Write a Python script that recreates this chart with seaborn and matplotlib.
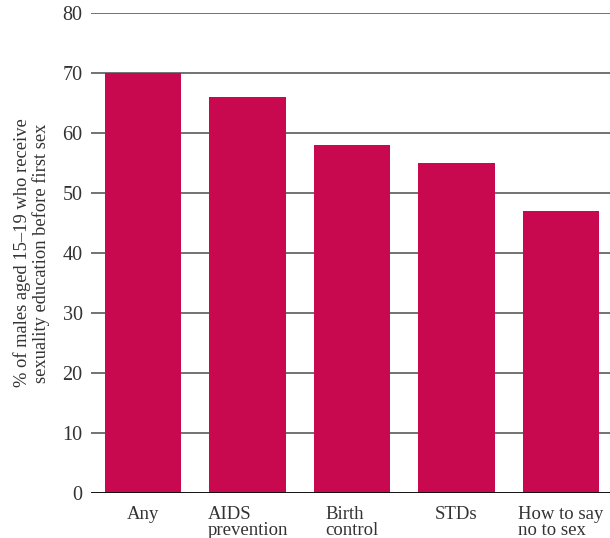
import matplotlib
matplotlib.use("Agg")
import matplotlib.pyplot as plt
import seaborn as sns
import pandas as pd

categories = ["Any", "AIDS\nprevention", "Birth\ncontrol", "STDs", "How to say\nno to sex"]
values = [70, 66, 58, 55, 47]
yticks = [0, 10, 20, 30, 40, 50, 60, 70, 80]

df = pd.DataFrame({"topic": categories, "pct": values})

sns.set_theme(style="white")
plt.rcParams["font.family"] = ["Liberation Serif", "DejaVu Serif"]

fig = plt.figure(figsize=(6.1, 5.38), dpi=100)
ax = fig.add_axes([0.149, 0.0836, 0.851, 0.8924])

for t in yticks[1:]:
    ax.axhline(t, color="#5a5a5a", lw=1.2, zorder=0)
ax.axhline(0, color="#111111", lw=1.4, zorder=3)

sns.barplot(data=df, x="topic", y="pct", color="#C8094F", saturation=1,
            width=0.73, ax=ax, zorder=2, edgecolor="none", linewidth=0)

ax.set_xlim(-0.5, 4.47)
ax.set_ylim(0, 80)
ax.set_yticks(yticks)
ax.set_yticklabels([str(t) for t in yticks], fontsize=14.5, color="#333333")
ax.set_xticks(range(len(categories)))
ax.set_xticklabels(categories, fontsize=13.5, color="#333333",
                   multialignment="left", linespacing=0.95)
ax.tick_params(axis="y", length=0, pad=6)
ax.tick_params(axis="x", length=0, pad=9)
ax.set_xlabel("")
ax.set_ylabel("% of males aged 15\u201319 who receive\nsexuality education before first sex",
              fontsize=13.3, color="#333333", linespacing=1.05, labelpad=9)
for s in ax.spines.values():
    s.set_visible(False)

fig.savefig("out.png", dpi=100)
